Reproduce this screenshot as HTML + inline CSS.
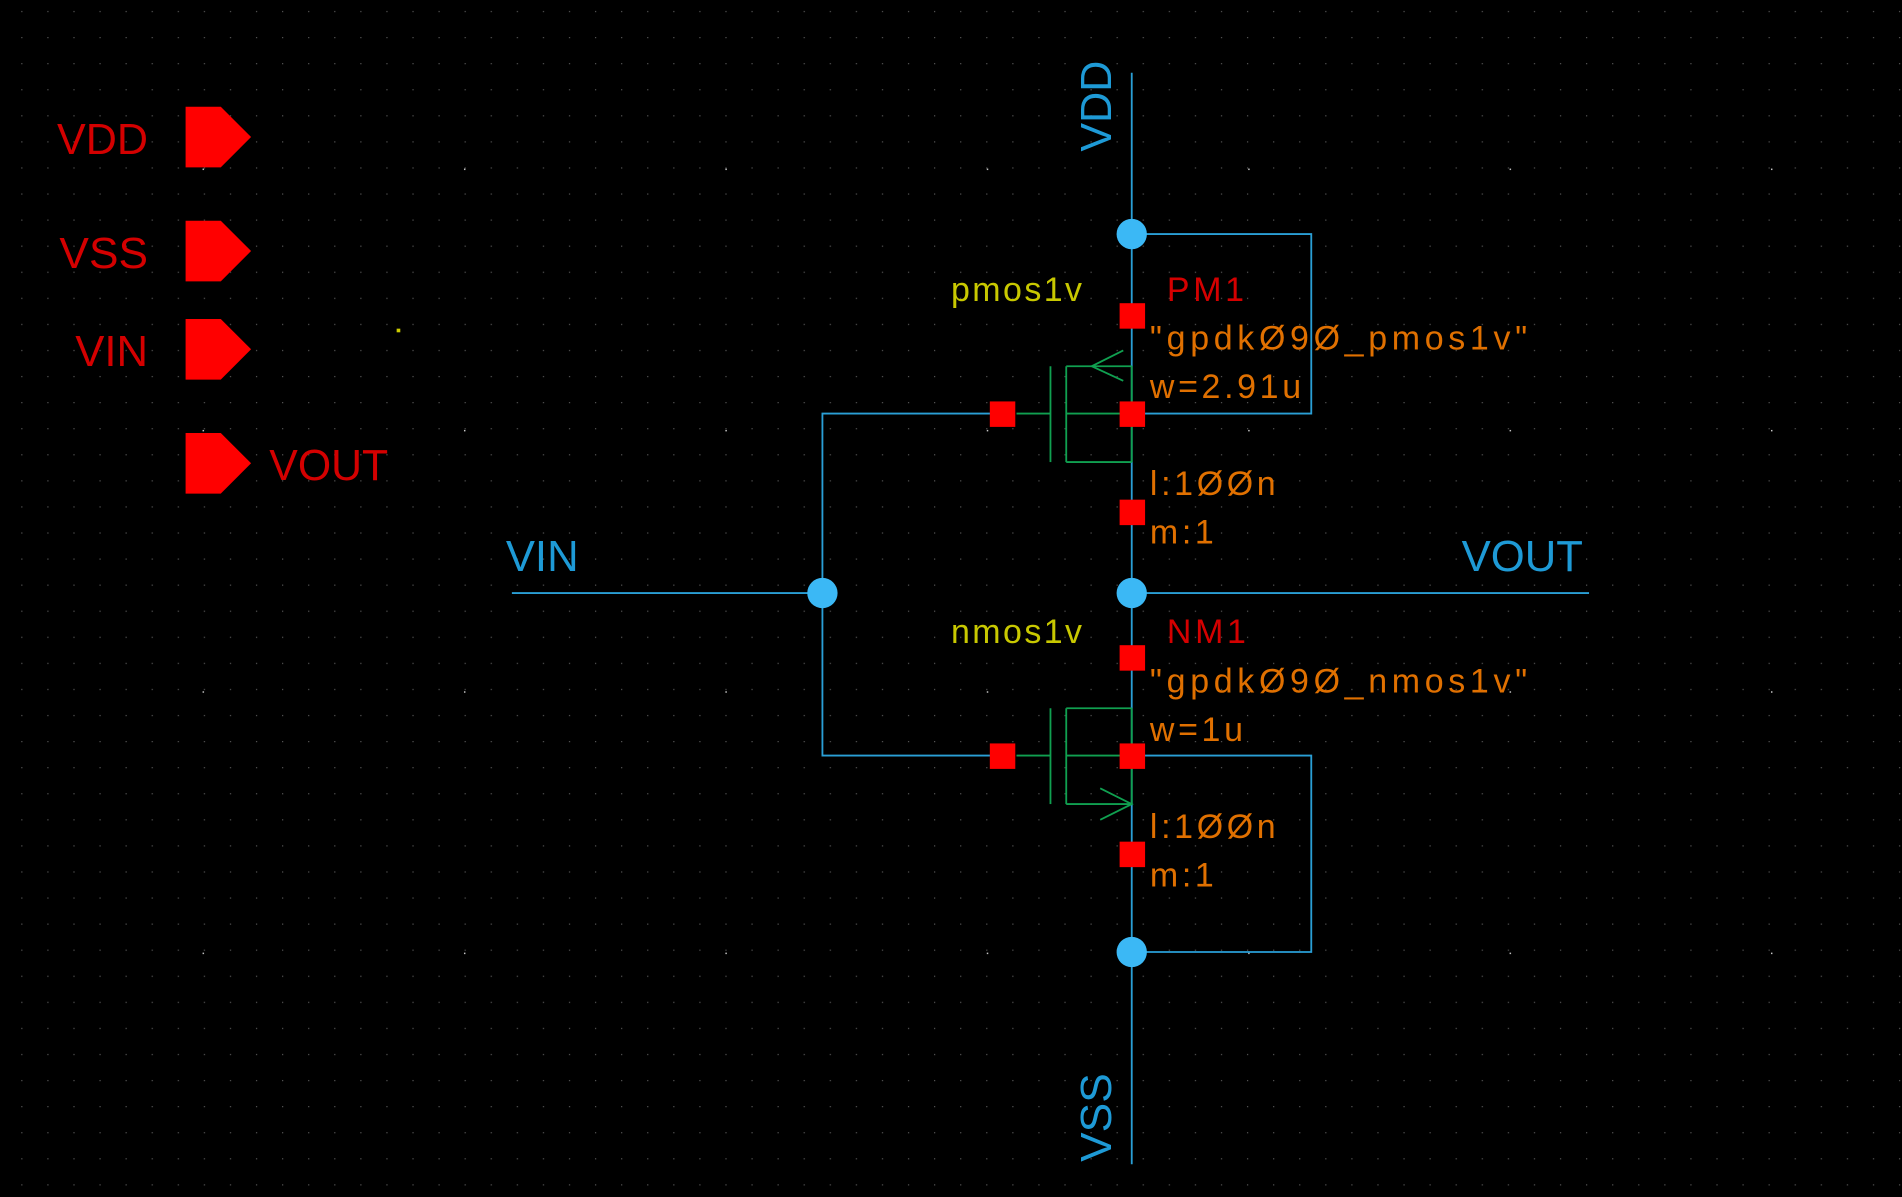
<!DOCTYPE html>
<html><head><meta charset="utf-8"><style>
html,body{margin:0;padding:0;background:#000;overflow:hidden}
svg{display:block}
text{font-family:"Liberation Sans",sans-serif}
</style></head><body>
<svg width="1902" height="1197" viewBox="0 0 1568 987" preserveAspectRatio="none" xmlns="http://www.w3.org/2000/svg">
<defs>
<pattern id="sd" x="-4" y="9" width="21.5" height="21.5" patternUnits="userSpaceOnUse">
<rect x="0" y="0" width="1" height="1" fill="#555"/>
</pattern>
<pattern id="bd" x="167" y="139" width="215.5" height="215.5" patternUnits="userSpaceOnUse">
<rect x="-1" y="-1" width="2.2" height="2.2" fill="#ccc"/>
</pattern>
</defs>
<rect width="1568" height="987" fill="#000"/>
<rect width="1568" height="987" fill="url(#sd)"/>
<rect width="1568" height="987" fill="url(#bd)"/>

<!-- pins -->
<g fill="#ff0000">
<polygon points="153,88 182,88 207,113 182,138 153,138"/>
<polygon points="153,182 182,182 207,207 182,232 153,232"/>
<polygon points="153,263 182,263 207,288 182,313 153,313"/>
<polygon points="153,357 182,357 207,382 182,407 153,407"/>
</g>
<g fill="#d40000" font-size="36">
<text x="47" y="127" textLength="75" lengthAdjust="spacingAndGlyphs">VDD</text>
<text x="49" y="221" textLength="73" lengthAdjust="spacingAndGlyphs">VSS</text>
<text x="62" y="302" textLength="60" lengthAdjust="spacingAndGlyphs">VIN</text>
<text x="222" y="396" textLength="98" lengthAdjust="spacingAndGlyphs">VOUT</text>
</g>
<rect x="327" y="271" width="3" height="3" fill="#cc0"/>

<!-- wires -->
<g stroke="#2a9fd6" stroke-width="1.5" fill="none">
<line x1="933" y1="60" x2="933" y2="960"/>
<polyline points="933,193 1081,193 1081,341 933,341"/>
<polyline points="933,623 1081,623 1081,785 933,785"/>
<polyline points="826,341 678,341 678,623 826,623"/>
<line x1="422" y1="489" x2="678" y2="489"/>
<line x1="933" y1="489" x2="1310" y2="489"/>
</g>
<g fill="#3bb8f5">
<circle cx="933" cy="193" r="12.5"/>
<circle cx="933" cy="489" r="12.5"/>
<circle cx="678" cy="489" r="12.5"/>
<circle cx="933" cy="785" r="12.5"/>
</g>

<!-- transistors -->
<g stroke="#10a050" stroke-width="1.5" fill="none">
<line x1="838" y1="341" x2="866" y2="341"/>
<line x1="866" y1="302" x2="866" y2="381"/>
<line x1="879" y1="302" x2="879" y2="381"/>
<line x1="879" y1="302" x2="933" y2="302"/>
<line x1="879" y1="381" x2="933" y2="381"/>
<line x1="879" y1="341" x2="933" y2="341"/>
<polyline points="926,289 900,302 926,314"/>
<line x1="838" y1="623" x2="866" y2="623"/>
<line x1="866" y1="584" x2="866" y2="663"/>
<line x1="879" y1="584" x2="879" y2="663"/>
<line x1="879" y1="584" x2="933" y2="584"/>
<line x1="879" y1="663" x2="933" y2="663"/>
<line x1="879" y1="623" x2="933" y2="623"/>
<polyline points="907,650 933,663 907,676"/>
<line x1="933" y1="302" x2="933" y2="381"/>
<line x1="933" y1="584" x2="933" y2="663"/>
</g>
<g fill="#ff0000">
<rect x="923" y="250" width="21" height="21"/>
<rect x="816" y="331" width="21" height="21"/>
<rect x="923" y="331" width="21" height="21"/>
<rect x="923" y="412" width="21" height="21"/>
<rect x="923" y="532" width="21" height="21"/>
<rect x="816" y="613" width="21" height="21"/>
<rect x="923" y="613" width="21" height="21"/>
<rect x="923" y="694" width="21" height="21"/>
</g>

<!-- labels -->
<g fill="#1e9ad6" font-size="36">
<text x="417" y="471" textLength="60" lengthAdjust="spacingAndGlyphs">VIN</text>
<text x="1205" y="471" textLength="100" lengthAdjust="spacingAndGlyphs">VOUT</text>
<text transform="translate(916,125) rotate(-90)" textLength="75" lengthAdjust="spacingAndGlyphs">VDD</text>
<text transform="translate(916,958) rotate(-90)" textLength="73" lengthAdjust="spacingAndGlyphs">VSS</text>
</g>
<g fill="#c8c800" font-size="28" letter-spacing="2">
<text x="784" y="248">pmos1v</text>
<text x="784" y="530">nmos1v</text>
</g>
<g fill="#d40000" font-size="28" letter-spacing="3">
<text x="962" y="248">PM1</text>
<text x="962" y="530">NM1</text>
</g>
<g fill="#e07000" font-size="28" letter-spacing="3">
<text x="948" y="288" textLength="314" lengthAdjust="spacing">"gpdkØ9Ø_pmos1v"</text>
<text x="948" y="328">w=2.91u</text>
<text x="948" y="408">l:1ØØn</text>
<text x="948" y="448">m:1</text>
<text x="948" y="571" textLength="314" lengthAdjust="spacing">"gpdkØ9Ø_nmos1v"</text>
<text x="948" y="611">w=1u</text>
<text x="948" y="691">l:1ØØn</text>
<text x="948" y="731">m:1</text>
</g>
</svg>
</body></html>
